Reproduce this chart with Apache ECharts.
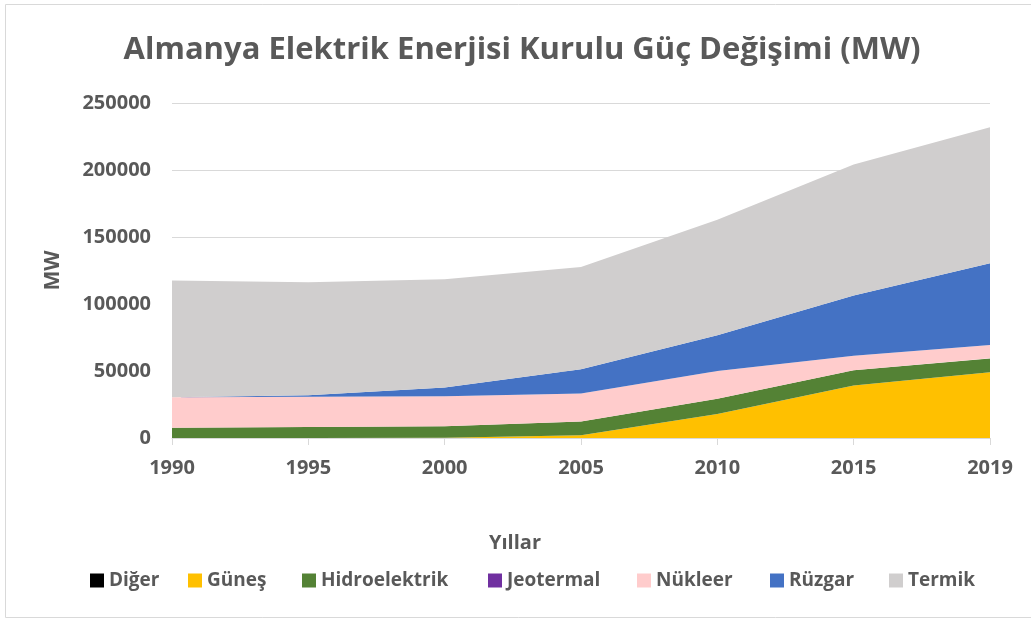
<!DOCTYPE html>
<html>
<head>
<meta charset="utf-8">
<script src="https://cdn.jsdelivr.net/npm/echarts@6/dist/echarts.min.js"></script>
<style>
  html, body { margin: 0; padding: 0; background: #fff; }
  #chart { width: 1031px; height: 619px; }
</style>
</head>
<body>
<div id="chart"></div>
<script>
// installed capacity, MW
var years = ['1990', '1995', '2000', '2005', '2010', '2015', '2019'];
var diger = [0, 0, 0, 0, 0, 0, 0];
var gunes = [0, 20, 110, 2060, 18000, 39200, 49000];
var hidro = [7700, 8200, 8600, 10200, 11200, 11400, 10400];
var jeotermal = [0, 0, 0, 0, 8, 33, 42];
var nukleer = [22700, 22600, 22400, 20900, 20800, 10700, 10000];
var ruzgar = [60, 1100, 6500, 18200, 26600, 45000, 60900];
var termik = [87000, 84300, 80800, 76300, 86300, 97800, 101500];
var yTicks = { min: 0, max: 250000, interval: 50000 };

var names = ['Diğer', 'Güneş', 'Hidroelektrik', 'Jeotermal', 'Nükleer', 'Rüzgar', 'Termik'];
var colors = ['#000000', '#ffc000', '#548235', '#7030a0', '#ffcccc', '#4472c4', '#d0cece'];
var legendX = [85, 183, 297, 483, 632, 765, 884];

var FONT = '"Open Sans", sans-serif';
var GREY = '#595959';

function area(name, data, color) {
    return {
        name: name, type: 'line', stack: 'total', data: data,
        symbol: 'none', lineStyle: { width: 0 },
        areaStyle: { color: color, opacity: 1 }, itemStyle: { color: color }
    };
}

// one legend per entry so each lands where Excel put it
var legends = names.map(function (nm, i) {
    return {
        left: legendX[i], top: 566, itemWidth: 14, itemHeight: 14, icon: 'rect',
        textStyle: { color: GREY, fontSize: 19, fontWeight: 'bold', fontFamily: FONT },
        data: [nm]
    };
});

var chart = echarts.init(document.getElementById('chart'));
chart.setOption({
    animation: false,
    textStyle: { fontFamily: FONT },
    grid: { left: 172, right: 41, top: 103, bottom: 181 },
    legend: legends,
    xAxis: {
        type: 'category', data: years, boundaryGap: false,
        axisLine: { lineStyle: { color: '#d9d9d9', width: 1 } },
        axisTick: { show: true, length: 7, lineStyle: { color: '#d9d9d9' } },
        axisLabel: { color: GREY, fontSize: 20, fontWeight: 'bold', margin: 20 }
    },
    yAxis: {
        type: 'value', min: yTicks.min, max: yTicks.max, interval: yTicks.interval,
        name: 'MW', nameLocation: 'middle', nameGap: 108,
        nameTextStyle: { color: GREY, fontSize: 21, fontWeight: 'bold' },
        axisLine: { show: false }, axisTick: { show: false },
        axisLabel: { color: GREY, fontSize: 20, fontWeight: 'bold', margin: 21,
                     formatter: function (v) { return String(v); } },
        splitLine: { lineStyle: { color: '#d9d9d9', width: 1 } }
    },
    graphic: [
        { type: 'rect', silent: true, z: -10,
          shape: { x: 5.5, y: 4.5, width: 1040, height: 613 },
          style: { fill: 'none', stroke: '#d9d9d9', lineWidth: 1 } },
        { type: 'text', x: 522, y: 50,
          style: { text: 'Almanya Elektrik Enerjisi Kurulu Güç Değişimi (MW)', fill: GREY,
                   font: 'bold 31px ' + FONT, textAlign: 'center', textVerticalAlign: 'middle' } },
        { type: 'text', x: 515, y: 543,
          style: { text: 'Yıllar', fill: GREY, font: 'bold 20px ' + FONT,
                   textAlign: 'center', textVerticalAlign: 'middle' } }
    ],
    series: names.map(function (nm, i) {
        return area(nm, [diger, gunes, hidro, jeotermal, nukleer, ruzgar, termik][i], colors[i]);
    })
});
</script>
</body>
</html>
